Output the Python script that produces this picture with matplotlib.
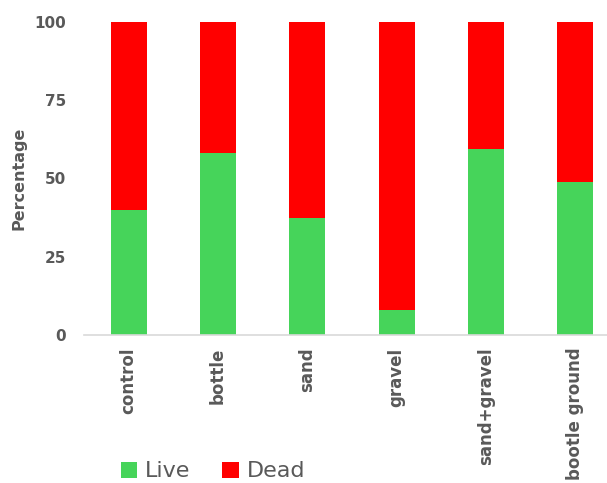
import numpy as np
from matplotlib import pyplot as plt

categories = ["control", "bottle", "sand", "gravel", "sand+gravel", "bootle ground"]
live = [40, 58, 37.5, 8, 59.5, 49]
dead = [100 - v for v in live]

green = "#46D45A"
red = "#FF0000"
gray = "#595959"

fig = plt.figure(figsize=(6.07, 4.83), dpi=100)
ax = fig.add_axes([84 / 607, 148 / 483, 536 / 607, 313 / 483])

x = np.arange(len(categories))
ax.bar(x, live, width=0.4, color=green, label="Live")
ax.bar(x, dead, width=0.4, bottom=live, color=red, label="Dead")

ax.set_xlim(-0.5, len(categories) - 0.5)
ax.set_ylim(0, 100)
ax.set_yticks([0, 25, 50, 75, 100])
ax.set_xticks(x)
ax.set_xticklabels(categories, rotation=90, fontsize=12, fontweight="bold",
                   color=gray, va="top")
for lbl in ax.get_yticklabels():
    lbl.set_fontsize(11)
    lbl.set_fontweight("bold")
    lbl.set_color(gray)
ax.tick_params(axis="both", length=0)
ax.tick_params(axis="x", pad=9)
ax.tick_params(axis="y", pad=13)
ax.set_ylabel("Percentage", fontsize=11.5, fontweight="bold", color=gray)
ax.yaxis.set_label_coords(-0.108, 0.5)

for side in ["top", "right", "left"]:
    ax.spines[side].set_visible(False)
ax.spines["bottom"].set_color("#D9D9D9")
ax.spines["bottom"].set_linewidth(1.2)

fig.legend(loc="lower left", bbox_to_anchor=(105 / 607, -14 / 483), ncol=2,
           frameon=False, fontsize=16, labelcolor=gray, handlelength=0.73,
           handleheight=0.73, handletextpad=0.36, columnspacing=1.45,
           borderpad=0.2)

fig.savefig("out.png", dpi=100)
